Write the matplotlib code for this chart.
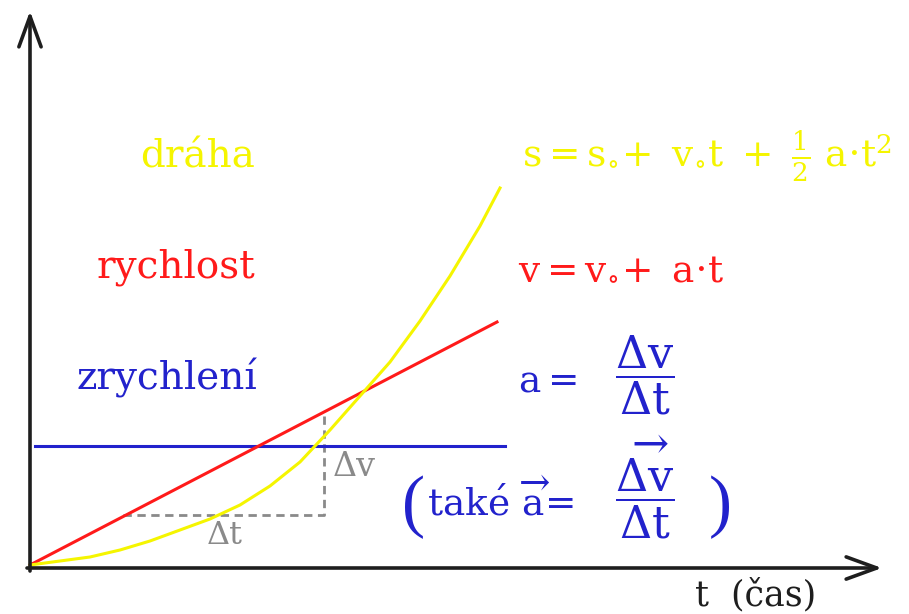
import matplotlib.pyplot as plt

plt.rcParams["mathtext.fontset"] = "dejavuserif"

# units: pixels from the axis origin (t to the right, value upwards)
draha_t = [0, 30, 60, 90, 120, 150, 180, 210, 240, 270, 300, 330, 360, 390, 420, 450, 470]
draha_s = [3, 7, 11, 18, 27, 38, 49, 63, 82, 106, 138, 172, 206, 247, 292, 342, 380]

rychlost_t = [0, 467]
rychlost_v = [3, 246]

zrychleni_t = [5, 475]
zrychleni_a = [122, 122]

# Δt / Δv triangle
tri_t = [93, 294, 294]
tri_v = [53, 53, 155]

YELLOW = "#f5f500"
RED = "#ff1a1a"
BLUE = "#2222cc"
GRAY = "#8a8a8a"
AXIS = "#1e1e1e"

fig = plt.figure(figsize=(9.09, 6.14), dpi=100)
ax = fig.add_axes([0, 0, 1, 1])
ax.set_xlim(-30, 879)
ax.set_ylim(-46, 568)
ax.axis("off")

# axes with open arrows
arr = dict(arrowstyle="->, head_length=1.1, head_width=0.4", lw=2.6, color=AXIS,
           mutation_scale=20, shrinkA=0, shrinkB=0)
ax.annotate("", xy=(0, 557), xytext=(0, -3), arrowprops=arr)
ax.annotate("", xy=(852, 0), xytext=(-3, 0), arrowprops=arr)

ax.plot(tri_t, tri_v, color=GRAY, lw=2, dashes=(3, 2))
ax.plot(zrychleni_t, zrychleni_a, color=BLUE, lw=2.2)
ax.plot(rychlost_t, rychlost_v, color=RED, lw=2.2)
ax.plot(draha_t, draha_s, color=YELLOW, lw=2.2, solid_joinstyle="round")

lab = dict(family="DejaVu Serif", fontsize=28, ha="right", va="baseline")
ax.text(225, 400, "dráha", color=YELLOW, **lab)
ax.text(225, 291, "rychlost", color=RED, **lab)
ax.text(227, 178, "zrychlení", color=BLUE, **lab)

fs = 27
ax.text(492, 401,
        r"$\mathrm{s} = \mathrm{s}_{\circ}\!+\ \mathrm{v}_{\circ}\mathrm{t}\ +\ \frac{1}{2}\ \mathrm{a}{\cdot}\mathrm{t}^{2}$",
        color=YELLOW, fontsize=fs, va="baseline")
ax.text(488, 290, r"$\mathrm{v} = \mathrm{v}_{\circ}\!+\ \mathrm{a}{\cdot}\mathrm{t}$",
        color=RED, fontsize=fs, va="baseline")

# a = Δv / Δt
ax.text(488, 176, r"$\mathrm{a} =$", color=BLUE, fontsize=fs, va="baseline")
ax.text(615, 193, r"$\dfrac{\Delta\mathrm{v}}{\Delta\mathrm{t}}$",
        color=BLUE, fontsize=32, ha="center", va="center")

# (také a = Δv / Δt)
ax.text(397, 53, r"$\mathrm{tak\acute{e}}\ \overrightarrow{\mathrm{a}}\!=$",
        color=BLUE, fontsize=fs, va="baseline")
ax.text(615, 81, r"$\dfrac{\overrightarrow{\Delta\mathrm{v}}}{\Delta\mathrm{t}}$",
        color=BLUE, fontsize=32, ha="center", va="center")
ax.text(384, 61, "(", color=BLUE, fontsize=50, family="Liberation Serif",
        ha="center", va="center")
ax.text(690, 61, ")", color=BLUE, fontsize=50, family="Liberation Serif",
        ha="center", va="center")

ax.text(195, 33, "Δt", color=GRAY, fontsize=23, family="DejaVu Serif",
        ha="center", va="center")
ax.text(303, 101, "Δv", color=GRAY, fontsize=24, family="DejaVu Serif",
        ha="left", va="center")
ax.text(665, -37, "t  (čas)", color=AXIS, fontsize=25, family="DejaVu Serif",
        va="baseline")

fig.savefig("out.png", dpi=100)
